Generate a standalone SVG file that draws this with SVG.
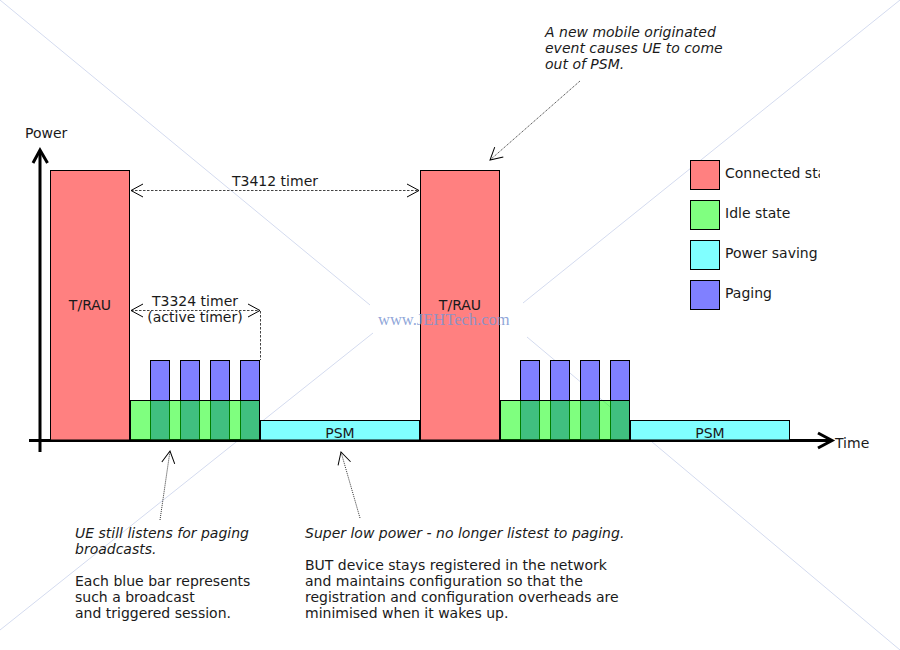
<svg xmlns="http://www.w3.org/2000/svg" width="900" height="650" viewBox="0 0 900 650">
<style>
  text { font-family: "DejaVu Sans", "Noto Sans", sans-serif; font-size: 14px; fill: #1a1a1a; }
  .it { font-style: italic; }
  .mid { text-anchor: middle; }
  .box { stroke: #000; stroke-width: 1; }
  .conn { fill: #ff8080; }
  .idle { fill: #00ff00; fill-opacity: 0.5; }
  .psm { fill: #80ffff; }
  .pag { fill: #8080ff; }
  .axis { stroke: #000; stroke-width: 3; fill: none; }
  .timer { stroke: #444; stroke-width: 1; stroke-dasharray: 2.5,1.5; fill: none; }
  .note { stroke: #333; stroke-width: 1; stroke-dasharray: 1,1; fill: none; }
  .wm { stroke: #d4dbef; stroke-width: 1; }
</style>
<defs>
  <marker id="open" markerUnits="userSpaceOnUse" orient="auto-start-reverse" refX="0" refY="0" markerWidth="20" markerHeight="20" overflow="visible">
    <path d="M-12,-6.5 L0,0 L-12,6.5" fill="none" stroke="#000" stroke-width="1"/>
  </marker>
  <clipPath id="legclip"><rect x="0" y="0" width="820" height="650"/></clipPath>
</defs>
<rect width="900" height="650" fill="#fff"/>

<g id="watermark-lines">
  <line class="wm" x1="0" y1="0" x2="370" y2="305"/>
  <line class="wm" x1="900" y1="0" x2="523" y2="303"/>
  <line class="wm" x1="0" y1="630" x2="373" y2="333"/>
  <line class="wm" x1="900" y1="650" x2="527" y2="337"/>
</g>

<g id="axes">
  <line class="axis" x1="29" y1="440.5" x2="831" y2="440.5"/>
  <path class="axis" d="M818,433 L832,440.5 L818,448"/>
  <line class="axis" x1="40" y1="452" x2="40" y2="151"/>
  <path class="axis" d="M33,163 L40,150 L47.5,163"/>
  <text x="25" y="138">Power</text>
  <text x="835" y="448">Time</text>
</g>

<g id="trau1">
  <rect class="box conn" x="50.5" y="170.5" width="79" height="269.5"/>
  <text class="mid" x="90" y="310">T/RAU</text>
</g>
<g id="paging1">
  <rect class="box pag" x="150.5" y="360.5" width="19" height="79.5"/>
  <rect class="box pag" x="180.5" y="360.5" width="19" height="79.5"/>
  <rect class="box pag" x="210.5" y="360.5" width="19" height="79.5"/>
  <rect class="box pag" x="240.5" y="360.5" width="19" height="79.5"/>
</g>
<g id="idle1">
  <rect class="box idle" x="130.5" y="400.5" width="129" height="39.5"/>
</g>
<g id="psm1">
  <rect class="box psm" x="260.5" y="420.5" width="159" height="19.5"/>
  <text class="mid" x="340" y="438">PSM</text>
</g>

<g id="trau2">
  <rect class="box conn" x="420.5" y="170.5" width="79" height="269.5"/>
  <text class="mid" x="460" y="310">T/RAU</text>
</g>
<g id="paging2">
  <rect class="box pag" x="520.5" y="360.5" width="19" height="79.5"/>
  <rect class="box pag" x="550.5" y="360.5" width="19" height="79.5"/>
  <rect class="box pag" x="580.5" y="360.5" width="19" height="79.5"/>
  <rect class="box pag" x="610.5" y="360.5" width="19" height="79.5"/>
</g>
<g id="idle2">
  <rect class="box idle" x="500.5" y="400.5" width="129" height="39.5"/>
</g>
<g id="psm2">
  <rect class="box psm" x="630.5" y="420.5" width="159" height="19.5"/>
  <text class="mid" x="710" y="438">PSM</text>
</g>

<g id="legend" clip-path="url(#legclip)">
  <rect class="box conn" x="690.5" y="160.5" width="29" height="29"/>
  <text x="725" y="178">Connected state</text>
  <rect class="box" fill="#80ff80" x="690.5" y="200.5" width="29" height="29"/>
  <text x="725" y="218">Idle state</text>
  <rect class="box psm" x="690.5" y="240.5" width="29" height="29"/>
  <text x="725" y="258">Power saving state</text>
  <rect class="box pag" x="690.5" y="280.5" width="29" height="29"/>
  <text x="725" y="298">Paging</text>
</g>

<g id="labels">
  <text class="mid" x="275" y="186">T3412 timer</text>
  <text class="mid" x="195" y="306">T3324 timer</text>
  <text class="mid" x="195" y="322">(active timer)</text>
  <text class="it" x="545" y="37">A new mobile originated</text>
  <text class="it" x="545" y="53">event causes UE to come</text>
  <text class="it" x="545" y="69">out of PSM.</text>
  <text x="75" y="538"><tspan class="it">UE still listens for paging</tspan><tspan class="it" x="75" dy="16">broadcasts.</tspan><tspan x="75" dy="32">Each blue bar represents</tspan><tspan x="75" dy="16">such a broadcast</tspan><tspan x="75" dy="16">and triggered session.</tspan></text>
  <text x="305" y="538"><tspan class="it">Super low power - no longer listest to paging.</tspan><tspan x="305" dy="32">BUT device stays registered in the network</tspan><tspan x="305" dy="16">and maintains configuration so that the</tspan><tspan x="305" dy="16">registration and configuration overheads are</tspan><tspan x="305" dy="16">minimised when it wakes up.</tspan></text>
</g>

<g id="connectors">
  <line class="timer" x1="131" y1="190.5" x2="419" y2="190.5" marker-start="url(#open)" marker-end="url(#open)"/>
  <line class="timer" x1="131" y1="310.5" x2="260" y2="310.5" marker-start="url(#open)" marker-end="url(#open)"/>
  <line class="timer" x1="260.5" y1="311" x2="260.5" y2="360"/>
  <line class="note" x1="580" y1="81" x2="490" y2="160" marker-end="url(#open)"/>
  <line class="note" x1="160" y1="520" x2="170" y2="451" marker-end="url(#open)"/>
  <line class="note" x1="360" y1="518" x2="341" y2="452" marker-end="url(#open)"/>
</g>

<g id="watermark">
  <text x="378" y="325" style="font-family:'Liberation Serif',serif;font-size:16.5px;fill:#7a95d2;fill-opacity:0.85">www.JEHTech.com</text>
</g>
</svg>
